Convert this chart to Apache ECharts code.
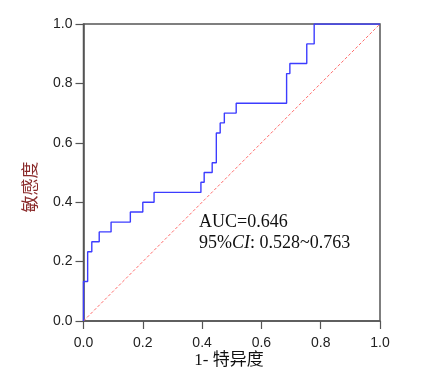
<!DOCTYPE html>
<html><head><meta charset="utf-8">
<script src="https://cdn.jsdelivr.net/npm/echarts@6/dist/echarts.min.js"></script>
<style>html,body{margin:0;padding:0;background:#fff}#c{width:422px;height:378px}</style>
</head><body><div id="c"></div>
<script>
// ROC curve vertices (1 - specificity, sensitivity)
const fpr = [0,0,0.014,0.014,0.028,0.028,0.053,0.053,0.093,0.093,0.158,0.158,0.2,0.2,0.238,0.238,0.396,0.396,0.407,0.407,0.434,0.434,0.448,0.448,0.461,0.461,0.475,0.475,0.515,0.515,0.685,0.685,0.696,0.696,0.753,0.753,0.778,0.778,1];
const sens = [0,0.133,0.133,0.233,0.233,0.267,0.267,0.3,0.3,0.333,0.333,0.367,0.367,0.4,0.4,0.433,0.433,0.467,0.467,0.5,0.5,0.533,0.533,0.633,0.633,0.667,0.667,0.7,0.7,0.733,0.733,0.833,0.833,0.867,0.867,0.933,0.933,1,1];
const refX = [0,1];
const refY = [0,1];
const xTitle = '1- 特异度';
const yTitle = '敏感度';
const aucText = 'AUC=0.646';
const ciLabel = 'CI';
const ciText = ': 0.528~0.763';

const chart = echarts.init(document.getElementById('c'), null, {renderer:'canvas'});
function axis(margin){
  return {
    type:'value', min:0, max:1, interval:0.2,
    axisLine:{show:true, lineStyle:{color:'#555', width:1.5}},
    axisTick:{show:true, inside:false, length:8, lineStyle:{color:'#555', width:1.2}},
    axisLabel:{color:'#222', fontFamily:'Liberation Sans, Arial', fontSize:14, margin:margin, formatter:v=>v.toFixed(1)},
    splitLine:{show:false}
  };
}
chart.setOption({
  animation:false,
  grid:{left:83.5, top:24, right:42, bottom:57, show:true, borderColor:'#555', borderWidth:1.5},
  xAxis:axis(15),
  yAxis:axis(11),
  series:[
    {type:'line', data:refX.map((x,i)=>[x,refY[i]]), symbol:'none', silent:true, color:'#ff6b6b',
     lineStyle:{color:'#ff6b6b', width:1, type:[3,2]}},
    {type:'line', data:fpr.map((x,i)=>[x,sens[i]]), symbol:'none', silent:true, color:'#3c3cff',
     lineStyle:{color:'#3c3cff', width:1.4}}
  ],
  graphic:[
    {type:'text', x:229, y:361, style:{text:xTitle, fill:'#111', font:'17px "Liberation Serif", "Noto Sans CJK SC"', align:'center', verticalAlign:'middle'}},
    {type:'text', x:30, y:187, rotation:Math.PI/2, style:{text:yTitle, fill:'#8a2a2a', font:'17px "Noto Sans CJK SC"', align:'center', verticalAlign:'middle'}},
    {type:'text', x:199, y:222, style:{text:aucText, fill:'#111', font:'18px "Liberation Serif"', verticalAlign:'middle'}},
    {type:'text', x:199, y:243, style:{
      text:'{n|95%}{i|' + ciLabel + '}{n|' + ciText + '}',
      verticalAlign:'middle',
      rich:{n:{fill:'#111', fontFamily:'Liberation Serif', fontSize:18}, i:{fill:'#111', fontFamily:'Liberation Serif', fontSize:18, fontStyle:'italic'}}
    }}
  ]
});
</script></body></html>
